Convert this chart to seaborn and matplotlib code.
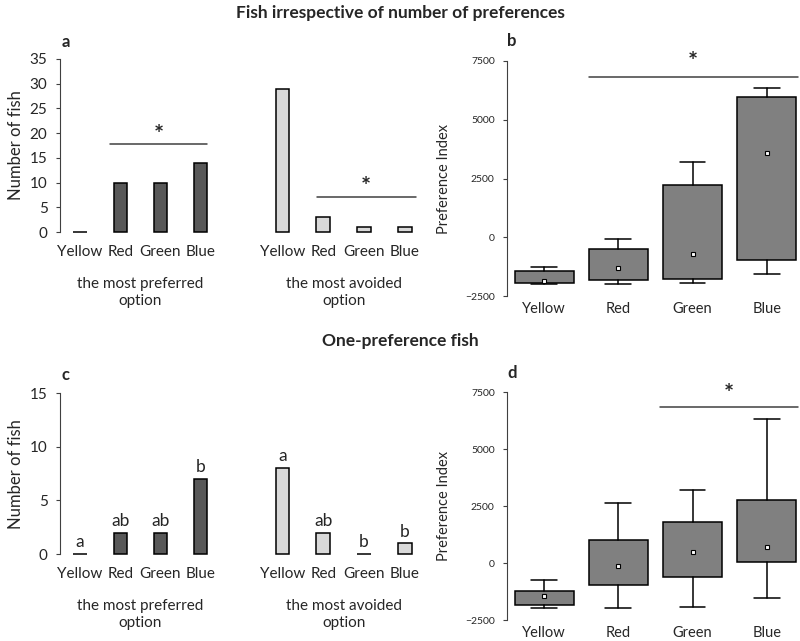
import numpy as np
import pandas as pd
import matplotlib
matplotlib.use("Agg")
import matplotlib.pyplot as plt
import seaborn as sns

# --------------------------------------------------------------
# Data
# --------------------------------------------------------------
colours = ["Yellow", "Red", "Green", "Blue"]

# panel a: all fish
a_preferred = [0, 10, 10, 14]
a_avoided = [29, 3, 1, 1]

# panel c: one-preference fish
c_preferred = [0, 2, 2, 7]
c_avoided = [8, 2, 0, 1]
c_pref_letters = ["a", "ab", "ab", "b"]
c_avoid_letters = ["a", "ab", "b", "b"]

# panel b: preference index (all fish)
b_whislo = [-1990, -1975, -1930, -1550]
b_q1 = [-1945, -1830, -1790, -950]
b_mid = [-1850, -1320, -700, 3590]
b_q3 = [-1450, -480, 2245, 5980]
b_whishi = [-1265, -60, 3210, 6335]

# panel d: preference index (one-preference fish)
d_whislo = [-1980, -1980, -1935, -1545]
d_q1 = [-1835, -950, -605, 45]
d_mid = [-1430, -140, 495, 715]
d_q3 = [-1210, 1030, 1785, 2770]
d_whishi = [-750, 2625, 3215, 6340]

DARK = "#595959"
LIGHT = "#d9d9d9"
BOXGREY = "#808080"

sns.set_style("white")
plt.rcParams["font.family"] = ["Lato", "DejaVu Sans"]

fig = plt.figure(figsize=(8, 6.41), dpi=100)


# --------------------------------------------------------------
# bar panels
# --------------------------------------------------------------
def bar_axis(rect, values, colour, ymax, yticks, left_spine, xlabel):
    ax = fig.add_axes(rect)
    df = pd.DataFrame({"colour": colours, "n": values})
    sns.barplot(data=df, x="colour", y="n", color=colour, width=0.33,
                edgecolor="black", linewidth=1.1, saturation=1, ax=ax)
    for p in ax.patches:
        p.set_clip_on(False)
    ax.set_ylim(0, ymax)
    ax.set_xlim(-0.5, 3.5)
    for s in ["top", "right", "bottom"]:
        ax.spines[s].set_visible(False)
    if left_spine:
        ax.spines["left"].set_color("#404040")
        ax.set_yticks(yticks)
        ax.tick_params(axis="y", length=3, width=0.8, color="#404040",
                       labelsize=11, pad=6, left=True)
        ax.set_ylabel("Number of fish", fontsize=12, labelpad=4)
    else:
        ax.spines["left"].set_visible(False)
        ax.set_yticks([])
        ax.set_ylabel("")
    ax.tick_params(axis="x", length=0, labelsize=11, pad=9)
    ax.set_xlabel(xlabel, fontsize=11, labelpad=13, linespacing=1.35)
    return ax


def sig_line(ax, x0, x1, y, ystar):
    ax.plot([x0, x1], [y, y], color="#404040", lw=1.1, clip_on=False)
    ax.text((x0 + x1) / 2, ystar, "*", ha="center", va="center",
            fontsize=17, fontweight="bold", clip_on=False)


# panel a
ax_a1 = bar_axis([0.075, 0.638, 0.201, 0.270], a_preferred, DARK, 35,
                 range(0, 36, 5), True, "the most preferred\noption")
ax_a2 = bar_axis([0.3275, 0.638, 0.204, 0.270], a_avoided, LIGHT, 35,
                 [], False, "the most avoided\noption")
sig_line(ax_a1, 0.74, 3.16, 17.8, 19.6)
sig_line(ax_a2, 0.84, 3.27, 7.1, 9.0)

# panel c
ax_c1 = bar_axis([0.075, 0.1357, 0.201, 0.251], c_preferred, DARK, 15,
                 range(0, 16, 5), True, "the most preferred\noption")
ax_c2 = bar_axis([0.3275, 0.1357, 0.204, 0.251], c_avoided, LIGHT, 15,
                 [], False, "the most avoided\noption")
for ax, vals, letters in [(ax_c1, c_preferred, c_pref_letters),
                          (ax_c2, c_avoided, c_avoid_letters)]:
    for i, (v, t) in enumerate(zip(vals, letters)):
        ax.text(i, v + 0.35, t, ha="center", va="bottom", fontsize=12.5)


# --------------------------------------------------------------
# box panels
# --------------------------------------------------------------
def box_axis(rect, lo, q1, mid, q3, hi):
    ax = fig.add_axes(rect)
    stats = [
        {"label": c, "whislo": lo[i], "q1": q1[i], "med": mid[i],
         "mean": mid[i], "q3": q3[i], "whishi": hi[i], "fliers": []}
        for i, c in enumerate(colours)
    ]
    ax.bxp(stats, positions=range(4), widths=0.8, capwidths=0.35,
           patch_artist=True, showmeans=True,
           boxprops=dict(facecolor=BOXGREY, edgecolor="black", linewidth=1.1),
           whiskerprops=dict(color="black", linewidth=1.1),
           capprops=dict(color="black", linewidth=1.1),
           medianprops=dict(visible=False),
           meanprops=dict(marker="s", markersize=3.5, markerfacecolor="white",
                          markeredgecolor="black", markeredgewidth=0.8))
    ax.set_ylim(-2500, 7500)
    ax.set_xlim(-0.5, 3.45)
    ax.set_yticks([-2500, 0, 2500, 5000, 7500])
    for s in ["top", "right", "bottom"]:
        ax.spines[s].set_visible(False)
    ax.spines["left"].set_color("#404040")
    ax.tick_params(axis="y", length=3, width=0.8, color="#404040",
                   labelsize=7.5, left=True, pad=6)
    ax.tick_params(axis="x", length=0, labelsize=10.5, pad=4)
    ax.set_ylabel("Preference Index", fontsize=10.5, labelpad=10)
    return ax


ax_b = box_axis([0.634, 0.538, 0.366, 0.367], b_whislo, b_q1, b_mid, b_q3, b_whishi)
sig_line(ax_b, 0.6, 3.42, 6800, 7450)

ax_d = box_axis([0.634, 0.0326, 0.366, 0.3554], d_whislo, d_q1, d_mid, d_q3, d_whishi)
sig_line(ax_d, 1.56, 3.42, 6850, 7420)

# --------------------------------------------------------------
# titles and panel letters
# --------------------------------------------------------------
fig.text(0.5, 1 - 13 / 641, "Fish irrespective of number of preferences",
         ha="center", va="center", fontsize=12.5, fontweight="bold")
fig.text(0.5, 1 - 341 / 641, "One-preference fish",
         ha="center", va="center", fontsize=12.5, fontweight="bold")
for letter, x, y in [("a", 62, 42), ("b", 507, 41), ("c", 62, 375), ("d", 507, 373)]:
    fig.text(x / 800, 1 - y / 641, letter, ha="left", va="center",
             fontsize=12, fontweight="bold")

fig.savefig("out.png", dpi=100)
